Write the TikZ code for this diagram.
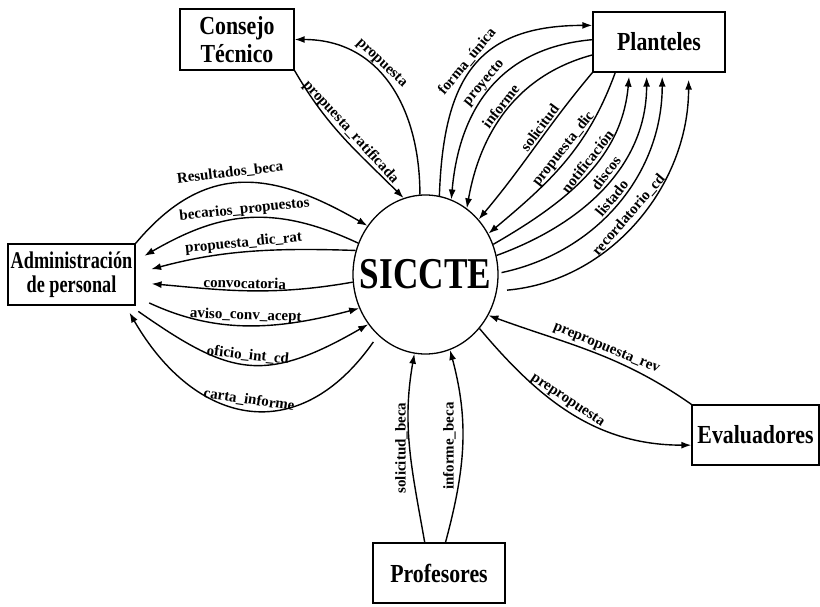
\documentclass[tikz,border=0pt]{standalone}
\usepackage{fontspec}
\setmainfont{Liberation Serif}
\newfontfamily\entityfont[FakeStretch=0.84]{Liberation Serif}
\newfontfamily\narrowfont[FakeStretch=0.76]{Liberation Serif}
\newfontfamily\hubfont[FakeStretch=0.8]{Liberation Serif}
\usetikzlibrary{arrows.meta,shapes.geometric}

\begin{document}
\begin{tikzpicture}[x=1pt,y=1pt,
  entity/.style={draw, line width=1.3pt, rectangle, inner sep=0pt, align=center,
    font=\entityfont\bfseries\fontsize{26}{28}\selectfont},
  flow/.style={line width=1.4pt},
  lbl/.style={font=\bfseries\fontsize{15}{15}\selectfont, sloped, above, inner sep=1.5pt},
  lblv/.style={font=\bfseries\fontsize{15}{15}\selectfont, rotate=90, anchor=south, inner sep=1.5pt},
  >={Latex[length=10pt,width=7pt]},
]
\useasboundingbox (0,0) rectangle (820,606);

% central process
\node[ellipse, draw, line width=1.3pt, inner sep=0pt,
      minimum width=145, minimum height=159] (S) at (425.5,331.5) {};
\node[font=\hubfont\bfseries\fontsize{44}{44}\selectfont] (Stitle) at (S.center) {SICCTE};

% external entities
\node[entity, minimum width=114, minimum height=61] (C)  at (237,566.5) {Consejo\\Técnico};
\node[entity, minimum width=132, minimum height=60] (P)  at (659,564)   {Planteles};
\node[entity, minimum width=127, minimum height=61,
      font=\narrowfont\bfseries\fontsize{24}{24}\selectfont] (A) at (71.5,331.5) {Administración\\de personal};
\node[entity, minimum width=127, minimum height=60] (E)  at (755.5,171)  {Evaluadores};
\node[entity, minimum width=132, minimum height=60] (Pr) at (439,33)    {Profesores};

% Consejo Tecnico
\draw[flow,->] (S.94) to[out=90,in=0,looseness=1.1] node[lbl,pos=.6]{propuesta} (C.east);
\draw[flow,->] (C.south east) to[out=-60,in=135] node[lbl,pos=.5]{propuesta\_ratificada} (S.106);

% Planteles
\draw[flow,->] (S.80) to[out=88,in=180,looseness=1.3] node[lbl,pos=.5]{forma\_única} (P.166);
\draw[flow,->] (P.178) to[out=185,in=85,looseness=1.1] node[lbl,pos=.5]{proyecto} (S.71.6);
\draw[flow,->] (P.191) to[out=195,in=80] node[lbl,pos=.5]{informe} (S.58);
\draw[flow,->] (P.south west) to[out=-130,in=50] node[lbl,pos=.4]{solicitud} (S.46);
\draw[flow,->] (P.215.5) to[out=-110,in=40] node[lbl,pos=.45]{propuesta\_dic} (S.33);
\draw[flow,->,shorten >=4pt] (S.24) to[out=30,in=-95] node[lbl,pos=.55]{notificación} (P.226);
\draw[flow,->,shorten >=4pt] (S.15) to[out=20,in=-90] node[lbl,pos=.55]{discos} (P.248);
\draw[flow,->,shorten <=3pt,shorten >=4pt] (S.1) to[out=12,in=-90] node[lbl,pos=.5]{listado} (P.276);
\draw[flow,->,shorten <=10pt,shorten >=7pt] (S.-13) to[out=5,in=-90] node[lbl,pos=.5]{recordatorio\_cd} (P.314);

% Administracion de personal
\draw[flow,->] (A.north east) to[out=50,in=150,looseness=1.2] node[lbl,pos=.45,inner sep=4pt]{Resultados\_beca} (S.140.7);
\draw[flow,->,shorten >=10pt] (S.155) to[out=155,in=30,looseness=1.1] node[lbl,pos=.5]{becarios\_propuestos} (A.12.7);
\draw[flow,->,shorten >=16pt] (S.161) to[out=178,in=15] node[lbl,pos=.5]{propuesta\_dic\_rat} (A.1);
\draw[flow,->,shorten >=16pt] (S.186) to[out=190,in=-5] node[lbl,pos=.5]{convocatoria} (A.-7);
\draw[flow,->,shorten <=15pt] (A.-19) to[out=-25,in=195] node[lbl,pos=.5]{aviso\_conv\_acept} (S.207.7);
\draw[flow,->,shorten <=10pt] (A.-28) to[out=-35,in=210,looseness=1.3] node[lbl,pos=.5]{oficio\_int\_cd} (S.221.6);
\draw[flow,->,shorten <=8pt,shorten >=8pt] (S.-128) to[out=235,in=-60,looseness=1.4] node[lbl,pos=.5]{carta\_informe} (A.-30);

% Profesores
\draw[flow,->] (Pr.115) to[out=100,in=-100] node[lblv,pos=.5]{solicitud\_beca} (S.-98.6);
\draw[flow,->] (Pr.78.7) to[out=75,in=-75] node[lblv,pos=.5,inner sep=6pt]{informe\_beca} (S.-72);

% Evaluadores
\draw[flow,<-] (S.-33) to[out=-20,in=145] node[lbl,pos=.55]{prepropuesta\_rev} (E.north west);
\draw[flow,->] (S.-45.5) to[out=-50,in=180] node[lbl,pos=.45]{prepropuesta} (E.189);
\end{tikzpicture}
\end{document}
